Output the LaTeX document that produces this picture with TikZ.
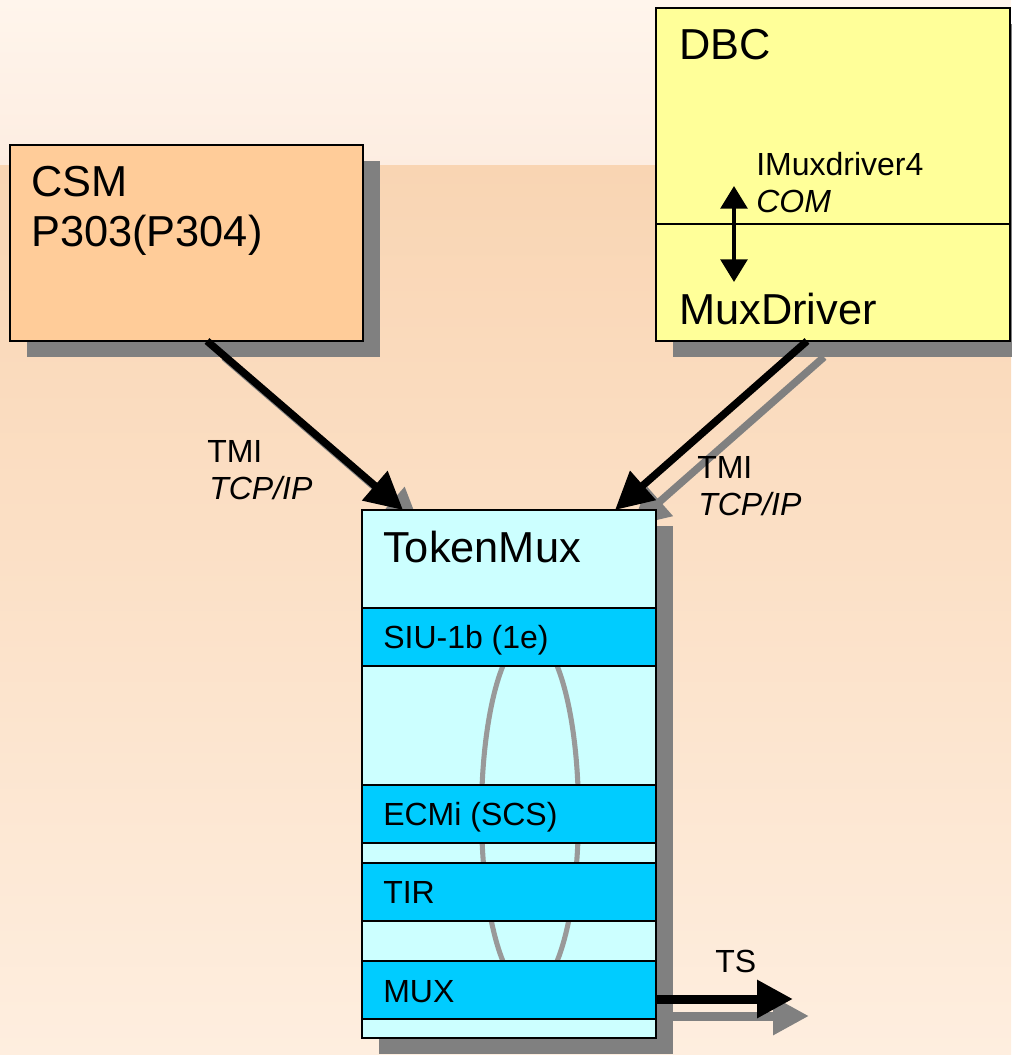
\documentclass[tikz,border=0pt]{standalone}
\usepackage{fontspec}
\setmainfont{Liberation Sans}
\usetikzlibrary{arrows.meta,calc,shadows}
\definecolor{csmfill}{HTML}{FFCC99}
\definecolor{dbcfill}{HTML}{FFFF99}
\definecolor{tmfill}{HTML}{CCFFFF}
\definecolor{bandblue}{HTML}{00CCFF}
\definecolor{shadowgray}{HTML}{808080}
\definecolor{ringgray}{HTML}{999999}
\definecolor{bgtop}{HTML}{FFF5EC}
\definecolor{bgtopb}{HTML}{FDEDE1}
\definecolor{bgpeach}{HTML}{F9D5B3}
\definecolor{bgbottom}{HTML}{FEEEDF}
\pgfdeclarelayer{bg}
\pgfdeclarelayer{ashadow}
\pgfsetlayers{bg,ashadow,main}
\begin{document}
\begin{tikzpicture}[x=0.75pt,y=-0.75pt,
  box/.style={draw=black,line width=2pt,anchor=north west,inner sep=0pt,outer sep=0pt,
    drop shadow={shadow xshift=12.5pt,shadow yshift=-12pt,fill=shadowgray,opacity=1}},
  band/.style={draw=black,line width=1.2pt,fill=bandblue,anchor=north west,inner sep=0pt,outer sep=0pt,
    minimum width=220.5pt,minimum height=43.5pt},
  strip/.style={draw=black,line width=1.2pt,anchor=north west,inner sep=0pt,outer sep=0pt,
    minimum width=220.5pt},
  big/.style={font=\fontsize{32.5}{38}\selectfont,anchor=base west,inner sep=0pt},
  small/.style={font=\fontsize{24}{28}\selectfont,anchor=base west,inner sep=0pt},
  conn/.style={line width=5.6pt,-{Triangle[length=28pt,width=28pt]}},
  tsconn/.style={line width=6.75pt,-{Triangle[length=27pt,width=27pt]}},
  iface/.style={line width=3pt,{Triangle[length=17pt,width=20pt]}-{Triangle[length=17pt,width=20pt]}},
]
\useasboundingbox (0,0) rectangle (1011,1055);
\begin{pgfonlayer}{bg}
  \shade[top color=bgtop,bottom color=bgtopb] (0,0) rectangle (1011,166);
  \shade[top color=bgpeach,bottom color=bgbottom] (0,166) rectangle (1011,1055);
\end{pgfonlayer}

% boxes
\node[box,fill=csmfill,minimum width=264.75pt,minimum height=147pt] (csm) at (10,145) {};
\node[box,fill=dbcfill,minimum width=265.5pt,minimum height=249.75pt] (dbc) at (656,8) {};
\draw[line width=1.5pt] ($(dbc.north west)+(0,216)$) coordinate (dl) -- (dl -| dbc.east);
\node[box,fill=tmfill,minimum width=220.5pt,minimum height=396pt] (tm) at (362,510) {};

% ring behind the layers
\draw[ringgray,line width=3.8pt] (530,813.5) ellipse [x radius=48.5,y radius=178];

% layers of TokenMux
\node[band] (siu) at (362,608) {};
\node[band] (ecmi) at (362,785) {};
\node[strip,minimum height=15pt] (s1) at (362,843) {};
\node[band] (tir) at (362,863) {};
\node[strip,minimum height=30pt] (s2) at (362,921) {};
\node[band] (mux) at (362,961) {};
\node[strip,minimum height=14.25pt] (s3) at (362,1019) {};
\draw[line width=2pt] (tm.north west) rectangle (tm.south east);

% texts
\node[big] (tcsm) at (31,197) {CSM};
\node[big] (tp) at (31,247) {P303(P304)};
\node[big] (tdbc) at (679,60) {DBC};
\node[small] (timx) at (756,176) {IMuxdriver4};
\node[small,font=\fontsize{24}{28}\selectfont\itshape] (tcom) at (756,213) {COM};
\node[big] (tmd) at (679,325) {MuxDriver};
\node[big] (ttm) at (383,562) {TokenMux};
\node[small] (tsiu) at (383,648) {SIU-1b (1e)};
\node[small] (tecmi) at (383,825) {ECMi (SCS)};
\node[small] (ttir) at (383,903) {TIR};
\node[small] (tmux) at (383,1002) {MUX};
\node[small] (tts) at (715,972) {TS};
\node[small] (ttmi1) at (207,462) {TMI};
\node[small,font=\fontsize{24}{28}\selectfont\itshape] (ttcp1) at (209,499) {TCP/IP};
\node[small] (ttmi2) at (697,478) {TMI};
\node[small,font=\fontsize{24}{28}\selectfont\itshape] (ttcp2) at (698,515) {TCP/IP};

% connector end points
\coordinate (a1s) at ($(csm.south west)+(197,0)$);
\coordinate (a1e) at ($(tm.north west)+(41,0)$);
\coordinate (a2s) at ($(dbc.south west)+(151,0)$);
\coordinate (a2e) at ($(tm.north west)+(253,0)$);
\coordinate (ifs) at ($(dbc.north west)+(78,274)$);
\coordinate (ife) at ($(dbc.north west)+(78,178)$);
\coordinate (tss) at ($(mux.east)+(0,9)$);
\coordinate (tse) at ($(tss)+(137,0)$);

% arrow shadows
\begin{pgfonlayer}{ashadow}
  \draw[conn,shadowgray] ([shift={(17,16)}]a1s) -- ([shift={(17,16)}]a1e);
  \draw[conn,shadowgray] ([shift={(17,16)}]a2s) -- ([shift={(17,16)}]a2e);
  \draw[tsconn,shadowgray] ([shift={(16,17)}]tss) -- ([shift={(16,17)}]tse);
\end{pgfonlayer}

% connectors
\draw[conn] (a1s) -- (a1e);
\draw[conn] (a2s) -- (a2e);
\draw[iface] (ifs) -- (ife);
\draw[tsconn] (tss) -- (tse);
\end{tikzpicture}
\end{document}
